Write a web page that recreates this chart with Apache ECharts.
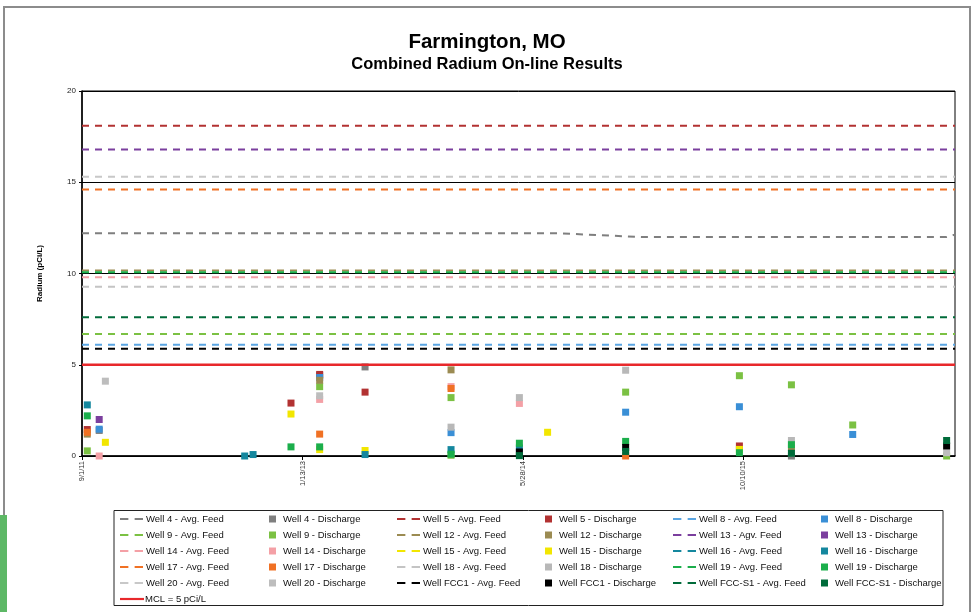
<!DOCTYPE html>
<html>
<head>
<meta charset="utf-8">
<script src="https://cdn.jsdelivr.net/npm/echarts@6/dist/echarts.min.js"></script>
<style>html,body{margin:0;padding:0;background:#fff}#c{width:974px;height:612px}</style>
</head>
<body>
<div id="c"></div>
<script>
// ---------- DATA ----------
var AXIS_START = "2011-09-01";
var AXIS_END = "2017-02-01";
var TICK_DAYS = 500;
var Y_TICKS = [0, 5, 10, 15, 20];

// Average feed lines [date, pCi/L]
var well4Feed   = [["2011-09-01",12.2],["2014-08-20",12.2],["2015-02-20",12.0],["2017-01-13",12.0],["2017-02-01",12.13]];
var well5Feed   = [["2011-09-01",18.1],["2017-02-01",18.1]];
var well8Feed   = [["2011-09-01",6.1],["2017-02-01",6.1]];
var well9Feed   = [["2011-09-01",6.68],["2017-02-01",6.68]];
var well12Feed  = [["2011-09-01",10.17],["2017-02-01",10.17]];
var well13Feed  = [["2011-09-01",16.8],["2017-02-01",16.8]];
var well14Feed  = [["2011-09-01",9.8],["2017-02-01",9.8]];
var well15Feed  = [];
var well16Feed  = [];
var well17Feed  = [["2011-09-01",14.6],["2017-02-01",14.6]];
var well18Feed  = [["2011-09-01",9.28],["2017-02-01",9.28]];
var well19Feed  = [["2011-09-01",10.07],["2017-02-01",10.07]];
var well20Feed  = [["2011-09-01",15.3],["2017-02-01",15.3]];
var fcc1Feed    = [["2011-09-01",5.88],["2017-02-01",5.88]];
var fccs1Feed   = [["2011-09-01",7.6],["2017-02-01",7.6]];
var mcl         = [["2011-09-01",5],["2017-02-01",5]];

// Discharge samples [date, pCi/L]
var well4Dis  = [["2011-10-10",1.4],["2013-02-21",4.42],["2013-06-04",4.88],["2016-01-27",0.0]];
var well5Dis  = [["2011-09-13",1.45],["2012-12-18",2.9],["2013-02-21",4.47],["2013-06-04",3.5],["2015-10-01",0.55]];
var well8Dis  = [["2011-10-10",1.47],["2013-02-21",4.3],["2013-12-16",1.28],["2015-01-16",2.4],["2015-10-01",2.7],["2016-06-14",1.18]];
var well9Dis  = [["2011-09-13",0.28],["2013-02-21",3.8],["2013-12-16",3.2],["2013-12-16",0.04],["2015-01-16",3.5],["2015-10-01",4.4],["2016-01-27",3.9],["2016-06-14",1.7],["2017-01-13",0.0]];
var well12Dis = [["2011-09-13",1.2],["2013-02-21",4.15],["2013-12-16",4.72],["2016-01-27",0.45]];
var well13Dis = [["2011-10-10",2.0]];
var well14Dis = [["2011-10-10",0.0],["2013-02-21",3.1],["2013-12-16",3.8],["2014-05-20",2.88]];
var well15Dis = [["2011-10-24",0.75],["2012-12-18",2.3],["2013-02-21",0.35],["2013-06-04",0.3],["2014-07-23",1.3],["2015-10-01",0.36]];
var well16Dis = [["2011-09-13",2.8],["2012-09-04",0.0],["2012-09-23",0.08],["2013-06-04",0.08],["2013-12-16",0.35],["2014-05-20",0.44]];
var well17Dis = [["2011-09-13",1.3],["2013-02-21",1.2],["2013-12-16",3.7],["2015-01-16",0.0]];
var well18Dis = [["2013-12-16",1.58],["2014-05-20",3.2],["2015-01-16",4.7],["2016-01-27",0.85]];
var well19Dis = [["2011-09-13",2.2],["2012-12-18",0.5],["2013-02-21",0.5],["2013-12-16",0.1],["2014-05-20",0.7],["2015-01-16",0.8],["2015-10-01",0.18],["2016-01-27",0.62]];
var well20Dis = [["2011-10-24",4.1],["2013-02-21",3.3],["2017-01-13",0.18]];
var fcc1Dis   = [["2014-05-20",0.22],["2015-01-16",0.47],["2017-01-13",0.55]];
var fccs1Dis  = [["2014-05-20",0.02],["2015-01-16",0.25],["2016-01-27",0.15],["2017-01-13",0.85]];

// ---------- HELPERS ----------
function dayNum(s){var p=s.split('-');return Math.round((Date.UTC(+p[0],p[1]-1,+p[2]) - Date.UTC(2011,8,1))/86400000);}
function conv(arr){return arr.map(function(d){return [dayNum(d[0]), d[1]];});}
function fmtDay(v){var d=new Date(Date.UTC(2011,8,1)+v*86400000);return (d.getUTCMonth()+1)+'/'+d.getUTCDate()+'/'+String(d.getUTCFullYear()).slice(2);}

var FONT = "'Liberation Sans', Arial, sans-serif";
var C = {
  w4:'#7F7F7F', w5:'#B23232', w8:'#3A8FD6', w8f:'#5AA5E2', w9:'#7BC143', w12:'#9B8B52', w13:'#7B3F9E',
  w14:'#F4A0A6', w15:'#F2E600', w16:'#14879E', w17:'#F07124', w18:'#C4C4C4', w19:'#1BAE4B',
  w20:'#C8C8C8', fcc1:'#000000', fccs1:'#006B3A', mcl:'#E8282B'
};

var series = [];
function feed(name, data, color){
  series.push({name:name, type:'line', data:conv(data), symbol:'none', showSymbol:false, silent:true,
    itemStyle:{color:color}, lineStyle:{color:color, width:2, type:[7,6]}, z:2, animation:false});
}
function dis(name, data, color){
  series.push({name:name, type:'scatter', data:conv(data), symbol:'rect', symbolSize:7, silent:true,
    itemStyle:{color:color, opacity:1}, z:3, animation:false});
}
feed('Well 4 - Avg. Feed', well4Feed, C.w4);      dis('Well 4 - Discharge', well4Dis, C.w4);
feed('Well 5 - Avg. Feed', well5Feed, C.w5);      dis('Well 5 - Discharge', well5Dis, C.w5);
feed('Well 8 - Avg. Feed', well8Feed, C.w8f);     dis('Well 8 - Discharge', well8Dis, C.w8);
feed('Well 9 - Avg. Feed', well9Feed, C.w9);      dis('Well 9 - Discharge', well9Dis, C.w9);
feed('Well 12 - Avg. Feed', well12Feed, C.w12);   dis('Well 12 - Discharge', well12Dis, C.w12);
feed('Well 13 - Agv. Feed', well13Feed, C.w13);   dis('Well 13 - Discharge', well13Dis, C.w13);
feed('Well 14 - Avg. Feed', well14Feed, C.w14);   dis('Well 14 - Discharge', well14Dis, C.w14);
feed('Well 15 - Avg. Feed', well15Feed, C.w15);   dis('Well 15 - Discharge', well15Dis, C.w15);
feed('Well 16 - Avg. Feed', well16Feed, C.w16);   dis('Well 16 - Discharge', well16Dis, C.w16);
feed('Well 17 - Avg. Feed', well17Feed, C.w17);   dis('Well 17 - Discharge', well17Dis, C.w17);
feed('Well 18 - Avg. Feed', well18Feed, C.w18);   dis('Well 18 - Discharge', well18Dis, '#B8B8B8');
feed('Well 19 - Avg. Feed', well19Feed, C.w19);   dis('Well 19 - Discharge', well19Dis, C.w19);
feed('Well 20 - Avg. Feed', well20Feed, C.w20);   dis('Well 20 - Discharge', well20Dis, '#BDBDBD');
feed('Well FCC1 - Avg. Feed', fcc1Feed, C.fcc1);  dis('Well FCC1 - Discharge', fcc1Dis, C.fcc1);
feed('Well FCC-S1 - Avg. Feed', fccs1Feed, C.fccs1); dis('Well FCC-S1 - Discharge', fccs1Dis, C.fccs1);
series.push({name:'MCL = 5 pCi/L', type:'line', data:conv(mcl), symbol:'none', silent:true,
  itemStyle:{color:C.mcl}, lineStyle:{color:C.mcl, width:2.5, type:'solid'}, z:4, animation:false});

var DASH_ICON = 'path://M0,0H8V2H0Z M14,0H22V2H14Z';
var SOLID_ICON = 'path://M0,0H22V2H0Z';

var legendCols = [
  {left:120, top:514, kind:'line',  names:['Well 4 - Avg. Feed','Well 9 - Avg. Feed','Well 14 - Avg. Feed','Well 17 - Avg. Feed','Well 20 - Avg. Feed']},
  {left:120, top:594, kind:'mcl',   names:['MCL = 5 pCi/L']},
  {left:269, top:514, kind:'square',names:['Well 4 - Discharge','Well 9 - Discharge','Well 14 - Discharge','Well 17 - Discharge','Well 20 - Discharge']},
  {left:397, top:514, kind:'line',  names:['Well 5 - Avg. Feed','Well 12 - Avg. Feed','Well 15 - Avg. Feed','Well 18 - Avg. Feed','Well FCC1 - Avg. Feed']},
  {left:545, top:514, kind:'square',names:['Well 5 - Discharge','Well 12 - Discharge','Well 15 - Discharge','Well 18 - Discharge','Well FCC1 - Discharge']},
  {left:673, top:514, kind:'line',  names:['Well 8 - Avg. Feed','Well 13 - Agv. Feed','Well 16 - Avg. Feed','Well 19 - Avg. Feed','Well FCC-S1 - Avg. Feed']},
  {left:821, top:514, kind:'square',names:['Well 8 - Discharge','Well 13 - Discharge','Well 16 - Discharge','Well 19 - Discharge','Well FCC-S1 - Discharge']}
];
var legends = legendCols.map(function(c){
  var o = {left:c.left, top:c.top, orient:'vertical', padding:0, itemGap:6, selectedMode:false,
    textStyle:{fontFamily:FONT, fontSize:9.5, color:'#111', lineHeight:10},
    data:c.names.map(function(n){return {name:n};})};
  if(c.kind==='line'){ o.itemWidth=23; o.itemHeight=2.5; o.icon=DASH_ICON; o.textStyle.padding=[0,0,0,-2]; }
  else if(c.kind==='mcl'){ o.itemWidth=24; o.itemHeight=3; o.icon=SOLID_ICON; o.textStyle.padding=[0,0,0,-4]; }
  else { o.itemWidth=7; o.itemHeight=7; o.icon='rect'; o.textStyle.padding=[0,0,0,2]; }
  return o;
});

var option = {
  backgroundColor:'#fff',
  animation:false,
  title:[
    {text:'Farmington, MO', left:'center', top:27, textStyle:{fontFamily:FONT, fontSize:20.5, fontWeight:'bold', color:'#000'}},
    {text:'Combined Radium On-line Results', left:'center', top:51, textStyle:{fontFamily:FONT, fontSize:16.5, fontWeight:'bold', color:'#000'}}
  ],
  legend:legends,
  grid:{left:82, right:19, top:91, bottom:156, show:true, borderColor:'#000', borderWidth:1, containLabel:false},
  xAxis:{type:'value', min:0, max:dayNum(AXIS_END), interval:TICK_DAYS,
    axisLine:{onZero:false, lineStyle:{color:'#000', width:1.5}},
    axisTick:{show:true, length:4, lineStyle:{color:'#000'}},
    splitLine:{show:false},
    axisLabel:{rotate:90, fontFamily:FONT, fontSize:7.5, color:'#333', margin:5, showMaxLabel:false,
      formatter:function(v){return (v % TICK_DAYS === 0) ? fmtDay(v) : '';}}
  },
  yAxis:{type:'value', min:Y_TICKS[0], max:Y_TICKS[Y_TICKS.length-1], interval:5,
    name:'Radium (pCi/L)', nameLocation:'middle', nameGap:38,
    nameTextStyle:{fontFamily:FONT, fontSize:8, fontWeight:'bold', color:'#000'},
    axisLine:{show:true, lineStyle:{color:'#000', width:1.5}},
    axisTick:{show:true, length:3, lineStyle:{color:'#000'}},
    splitLine:{show:true, lineStyle:{color:'#000', width:1}},
    axisLabel:{fontFamily:FONT, fontSize:8, color:'#222', margin:6}
  },
  graphic:[
    {type:'rect', shape:{x:4, y:7, width:966, height:606}, style:{fill:'none', stroke:'#8c8c8c', lineWidth:2}, silent:true, z:-1},
    {type:'rect', shape:{x:114, y:510.5, width:829, height:95}, style:{fill:'none', stroke:'#222', lineWidth:1}, silent:true},
    {type:'rect', shape:{x:0, y:515, width:7, height:97}, style:{fill:'#5DB866'}, silent:true}
  ],
  series:series
};
var chart = echarts.init(document.getElementById('c'), null, {renderer:'canvas'});
chart.setOption(option);
</script>
</body>
</html>
